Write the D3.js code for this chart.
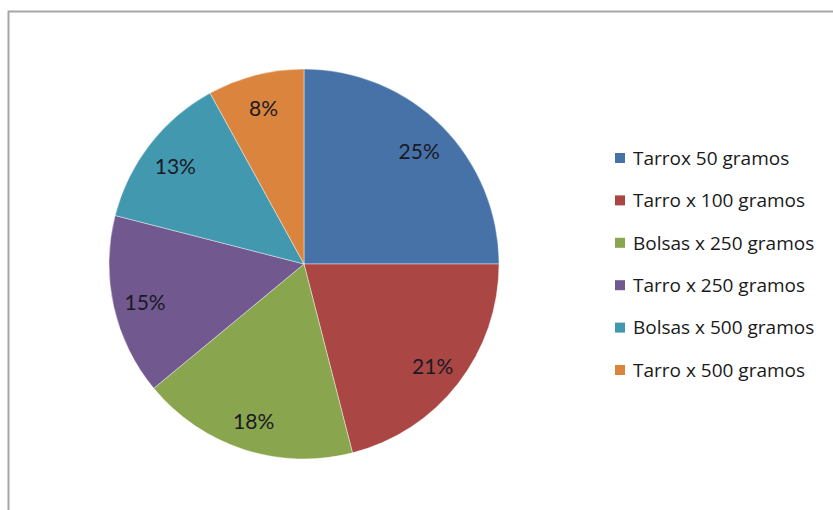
<!DOCTYPE html>
<html>
<head>
<meta charset="utf-8">
<script src="https://cdn.jsdelivr.net/npm/d3@7"></script>
<style>
  html, body { margin: 0; padding: 0; background: #fff; }
  svg { display: block; }
</style>
</head>
<body>
<svg id="chart" width="833" height="510"></svg>
<script>
// Presentaciones del producto y su participación (%)
const categories = [
  "Tarrox 50 gramos",
  "Tarro x 100 gramos",
  "Bolsas x 250 gramos",
  "Tarro x 250 gramos",
  "Bolsas x 500 gramos",
  "Tarro x 500 gramos"
];
const values = [25, 21, 18, 15, 13, 8];
const colors = ["#4672A8", "#AA4644", "#89A54E", "#71588F", "#4198AF", "#DB843D"];

const svg = d3.select("#chart");
const W = 833, H = 510;

// Chart frame (top and left edges visible; it continues past the window)
svg.append("rect")
  .attr("x", 8.5).attr("y", 11.5)
  .attr("width", W + 10).attr("height", H + 10)
  .attr("fill", "#fff")
  .attr("stroke", "#a6a6a6")
  .attr("stroke-width", 2);

const cx = 304, cy = 264, R = 195;
const data = categories.map((c, i) => ({ name: c, value: values[i], color: colors[i] }));

const pie = d3.pie().sort(null).value(d => d.value).startAngle(0).endAngle(2 * Math.PI);
const arcs = pie(data);
const arc = d3.arc().innerRadius(0).outerRadius(R);
const labelArc = d3.arc().innerRadius(R * 0.835).outerRadius(R * 0.835);

const g = svg.append("g").attr("transform", `translate(${cx},${cy})`);

g.selectAll("path.slice")
  .data(arcs)
  .join("path")
  .attr("class", "slice")
  .attr("d", arc)
  .attr("fill", d => d.data.color)
  .attr("stroke", "#ffffff")
  .attr("stroke-width", 0.6)
  .attr("stroke-opacity", 0.7);

const total = d3.sum(values);
g.selectAll("text.lbl")
  .data(arcs)
  .join("text")
  .attr("class", "lbl")
  .attr("transform", d => `translate(${labelArc.centroid(d)})`)
  .attr("text-anchor", "middle")
  .attr("dy", "0.48em")
  .attr("font-family", "Lato, 'Open Sans', sans-serif")
  .attr("font-size", 21)
  .attr("fill", "#1a1a24")
  .text(d => Math.round(d.data.value / total * 100) + "%");

// Legend
const legendY = d3.scalePoint().domain(categories).range([158, 370]);
const lg = svg.append("g");
const items = lg.selectAll("g.item")
  .data(data)
  .join("g")
  .attr("class", "item")
  .attr("transform", d => `translate(615,${legendY(d.name)})`);

items.append("rect")
  .attr("x", 0).attr("y", -5)
  .attr("width", 10).attr("height", 10)
  .attr("fill", d => d.color);

items.append("text")
  .attr("x", 18)
  .attr("dy", "0.36em")
  .attr("font-family", "'Open Sans', Lato, sans-serif")
  .attr("font-size", 19)
  .attr("fill", "#1a1a1a")
  .text(d => d.name);
</script>
</body>
</html>
